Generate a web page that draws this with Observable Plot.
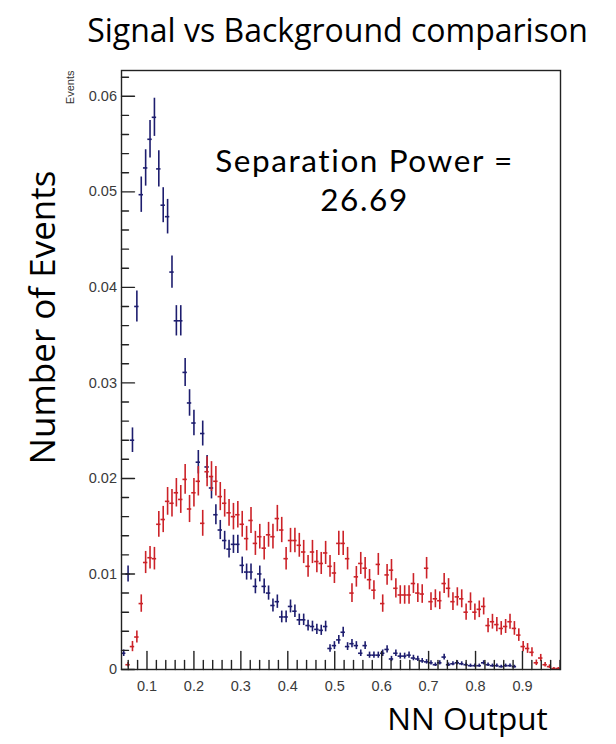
<!DOCTYPE html>
<html>
<head>
<meta charset="utf-8">
<script src="https://cdn.jsdelivr.net/npm/d3@7"></script>
<script src="https://cdn.jsdelivr.net/npm/@observablehq/plot@0.6"></script>
<style>
  html, body { margin: 0; padding: 0; background: #fff; }
  #chart svg { display: block; }
</style>
</head>
<body>
<div id="chart"></div>
<script>
// ---- Histogram binning (100 bins of the NN output) ----
const binLow = 0.0457;
const binHigh = 0.981;
const binCount = 100;

// ---- Signal (blue) normalised bin contents, bins 0..99 (null = empty) ----
const signal = [
  0.0017, 0.0100, 0.0240, 0.0380, 0.0497, 0.0525, 0.0555, 0.0578, 0.0524, 0.0486,
  0.0474, 0.0416, 0.0365, 0.0365, 0.0311, 0.0279, 0.0258, 0.0217, 0.0247, 0.0212,
  0.0190, 0.0162, 0.0146, 0.0135, 0.0126, 0.0131, 0.0131, 0.0109, 0.0102, 0.0102,
  0.0087, 0.0100, 0.0087, 0.0080, 0.0067, 0.0071, 0.0055, 0.0055, 0.0066, 0.0061,
  0.0052, 0.0052, 0.0046, 0.0045, 0.0042, 0.0041, 0.0045, 0.0022, 0.0025, 0.0031,
  0.0039, 0.0024, 0.0027, 0.0025, 0.0017, 0.0025, 0.0015, 0.0015, 0.0015, 0.0017,
  0.0021, 0.0011, 0.0017, 0.0014, 0.0014, 0.0015, 0.0012, 0.0011, 0.0009, 0.0008,
  0.0007, 0.0005, 0.0007, 0.0013, 0.0005, 0.0006, 0.0007, 0.0006, 0.0005, 0.0004,
  0.0004, 0.0004, 0.0007, 0.0005, 0.0004, 0.0004, 0.0003, 0.0004, 0.0004, 0.0003,
  null, null, null, null, null, null, null, null, null, null
];

// ---- Background (red) normalised bin contents, bins 0..99 ----
const background = [
  null,   0.0005, 0.0024, 0.0034, 0.0069, 0.0112, 0.0117, 0.0116, 0.0152, 0.0157,
  0.0176, 0.0174, 0.0185, 0.0178, 0.0199, 0.0168, 0.0185, 0.0197, 0.0153, 0.0207,
  0.0202, 0.0197, 0.0181, 0.0174, 0.0164, 0.0160, 0.0162, 0.0152, 0.0137, 0.0156,
  0.0132, 0.0139, 0.0127, 0.0141, 0.0139, 0.0158, 0.0146, 0.0116, 0.0135, 0.0135,
  0.0130, 0.0123, 0.0108, 0.0123, 0.0113, 0.0111, 0.0122, 0.0108, 0.0101, 0.0132,
  0.0132, 0.0116, 0.0080, 0.0097, 0.0111, 0.0106, 0.0094, 0.0083, 0.0110, 0.0069,
  0.0099, 0.0104, 0.0085, 0.0078, 0.0078, 0.0078, 0.0090, 0.0080, 0.0079, 0.0106,
  0.0071, 0.0074, 0.0072, 0.0090, 0.0085, 0.0071, 0.0076, 0.0074, 0.0060, 0.0071,
  0.0060, 0.0063, 0.0066, 0.0046, 0.0050, 0.0047, 0.0043, 0.0045, 0.0050, 0.0043,
  0.0036, 0.0024, 0.0022, 0.0018, 0.0007, 0.0012, 0.0005, 0.0003, 0.0001, 0.0001
];

// statistical error scale (err = sqrt(content * scale)) per sample
const signalErrScale = 6.9e-5;
const backgroundErrScale = 1.2e-4;

// ---- Axis ticks and labels ----
const xTicks = [0.1, 0.2, 0.3, 0.4, 0.5, 0.6, 0.7, 0.8, 0.9];
const xTickLabels = ["0.1", "0.2", "0.3", "0.4", "0.5", "0.6", "0.7", "0.8", "0.9"];
const yTicks = [0, 0.01, 0.02, 0.03, 0.04, 0.05, 0.06];
const yTickLabels = ["0", "0.01", "0.02", "0.03", "0.04", "0.05", "0.06"];
const xMinorTicks = d3.range(3, 50).map(k => k * 0.02).filter(t => t > binLow && t < binHigh && Math.abs(t * 10 - Math.round(t * 10)) > 1e-6);
const yMinorTicks = d3.range(1, 32).map(k => k * 0.002).filter(t => Math.abs(t * 100 - Math.round(t * 100)) > 1e-6);

// ---- Texts ----
const title = "Signal vs Background comparison";
const xTitle = "NN Output";
const yTitle = "Number of Events";
const ySmallTitle = "Events";
const separationLabel = "Separation Power =";
const separationPower = "26.69";

const blue = "#1d1d6e";
const red = "#cc2228";
const bigFont = "'Open Sans', 'Noto Sans', sans-serif";
const noteFont = "Lato, 'Open Sans', sans-serif";
const tickFont = "'Liberation Sans', Arial, Helvetica, sans-serif";

const w = (binHigh - binLow) / binCount;
function rows(values, scale) {
  return values.map((v, i) => v == null ? null : ({
    x: binLow + (i + 0.5) * w,
    lo: binLow + i * w,
    hi: binLow + (i + 1) * w,
    v,
    e: Math.sqrt(v * scale)
  })).filter(d => d);
}
const sig = rows(signal, signalErrScale);
const bkg = rows(background, backgroundErrScale);

const lineShape = { draw(context, l) { context.moveTo(0, 0); context.lineTo(0, -l); } };

function errMarks(data, color) {
  return [
    Plot.ruleX(data, { x: "x", y1: d => Math.max(0, d.v - d.e), y2: d => d.v + d.e, stroke: color, strokeWidth: 1.6 }),
    Plot.ruleY(data, { y: "v", x1: "lo", x2: "hi", stroke: color, strokeWidth: 1.6 })
  ];
}

const chart = Plot.plot({
  width: 616,
  height: 744,
  marginLeft: 121,
  marginRight: 56,
  marginTop: 70,
  marginBottom: 75,
  style: { background: "#fff", overflow: "visible" },
  x: { domain: [binLow, binHigh], axis: null },
  y: { domain: [0, 0.0627], axis: null },
  marks: [
    ...errMarks(sig, blue),
    ...errMarks(bkg, red),
    Plot.frame({ stroke: "#222", strokeWidth: 1.4 }),
    // x ticks (inside, pointing up)
    Plot.vector(xTicks, { x: d => d, frameAnchor: "bottom", length: 18, rotate: 0, anchor: "start", shape: lineShape, stroke: "#222", strokeWidth: 1.4 }),
    Plot.vector(xMinorTicks, { x: d => d, frameAnchor: "bottom", length: 9, rotate: 0, anchor: "start", shape: lineShape, stroke: "#222", strokeWidth: 1.4 }),
    // y ticks (inside, pointing right)
    Plot.vector(yTicks, { y: d => d, frameAnchor: "left", length: 13, rotate: 90, anchor: "start", shape: lineShape, stroke: "#222", strokeWidth: 1.4 }),
    Plot.vector(yMinorTicks, { y: d => d, frameAnchor: "left", length: 7, rotate: 90, anchor: "start", shape: lineShape, stroke: "#222", strokeWidth: 1.4 }),
    // tick labels
    Plot.text(xTicks, { x: d => d, frameAnchor: "bottom", dy: 17, text: (d, i) => xTickLabels[i], fontSize: 14.5, fontFamily: tickFont, fill: "#3a3a3a", lineAnchor: "middle" }),
    Plot.text(yTicks, { y: d => d, frameAnchor: "left", dx: -4.5, text: (d, i) => yTickLabels[i], textAnchor: "end", fontSize: 14.5, fontFamily: tickFont, fill: "#3a3a3a", lineAnchor: "middle" }),
    // small axis title
    Plot.text([ySmallTitle], { frameAnchor: "top-left", dx: -51, dy: 0, rotate: -90, textAnchor: "end", lineAnchor: "middle", text: d => d, fontSize: 11, fontFamily: tickFont, fill: "#333" }),
    // big titles
    Plot.text([title], { frameAnchor: "top-left", dx: 216, dy: -29, textAnchor: "middle", lineAnchor: "bottom", text: d => d, fontSize: 32, fontFamily: bigFont, fill: "#000" }),
    Plot.text([yTitle], { frameAnchor: "top-left", dx: -67, dy: 247, rotate: -90, textAnchor: "middle", lineAnchor: "bottom", text: d => d, fontSize: 35, fontFamily: bigFont, fill: "#000" }),
    Plot.text([xTitle], { frameAnchor: "bottom-left", dx: 346, dy: 60, textAnchor: "middle", lineAnchor: "bottom", text: d => d, fontSize: 31.5, fontFamily: bigFont, fill: "#000" }),
    // separation power annotation (two lines in one text)
    Plot.text([separationLabel + "\n" + separationPower], { frameAnchor: "top-left", dx: 243, dy: 140, textAnchor: "middle", lineAnchor: "bottom", lineHeight: 1.21, text: d => d, fontSize: 31.5, fontFamily: noteFont, fill: "#000" })
  ]
});
// widen the annotation's letter spacing slightly to match the original's text width
d3.select(chart).selectAll("text")
  .filter(function () { return this.textContent.startsWith(separationLabel); })
  .attr("letter-spacing", "1.6px");
document.getElementById("chart").appendChild(chart);
</script>
</body>
</html>
